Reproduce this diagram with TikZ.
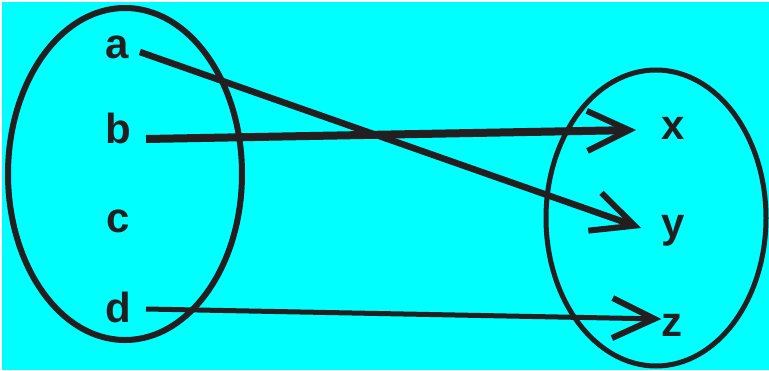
\documentclass[tikz,border=0pt]{standalone}
\usepackage{fontspec}
\setmainfont{Liberation Sans}
\usetikzlibrary{arrows.meta}
\definecolor{ink}{HTML}{231F20}
\definecolor{sky}{HTML}{00FFFF}

\begin{document}
\begin{tikzpicture}[x=1pt, y=-1pt,
  elt/.style={font=\fontsize{42}{42}\selectfont\bfseries, text=ink, inner sep=1pt},
  set/.style={draw=ink, line width=6pt},
  arr/.style={draw=ink, line width=6.5pt, -{Straight Barb[length=42pt, width=40pt, line width=6pt]}}
]
\useasboundingbox (0,0) rectangle (769,370);
\fill[white] (0,0) rectangle (769,370);
\fill[sky] (2,2) rectangle (769,370);

% the two sets
\draw[set] (125,174) ellipse [x radius=117, y radius=166];
\draw[set, line width=5pt] (656,218) ellipse [x radius=110, y radius=148];

% domain
\node[elt] (a) at (117,47) {a};
\node[elt] (b) at (118,128) {b};
\node[elt] (c) at (118,221) {c};
\node[elt] (d) at (118,307) {d};

% codomain
\node[elt] (x) at (673,128) {x};
\node[elt] (y) at (673,231) {y};
\node[elt] (z) at (672,325) {z};

% the mapping
\draw[arr] ([xshift=10pt,yshift=-5pt]a.east) -- ([xshift=-19pt,yshift=3pt]y.west);
\draw[arr, line width=8pt] ([xshift=14pt,yshift=-11pt]b.east) -- ([xshift=-24pt,yshift=-2pt]x.west);
\draw[arr, line width=5pt] ([xshift=14pt,yshift=-2pt]d.east) -- ([xshift=1pt,yshift=6pt]z.west);
\end{tikzpicture}
\end{document}
